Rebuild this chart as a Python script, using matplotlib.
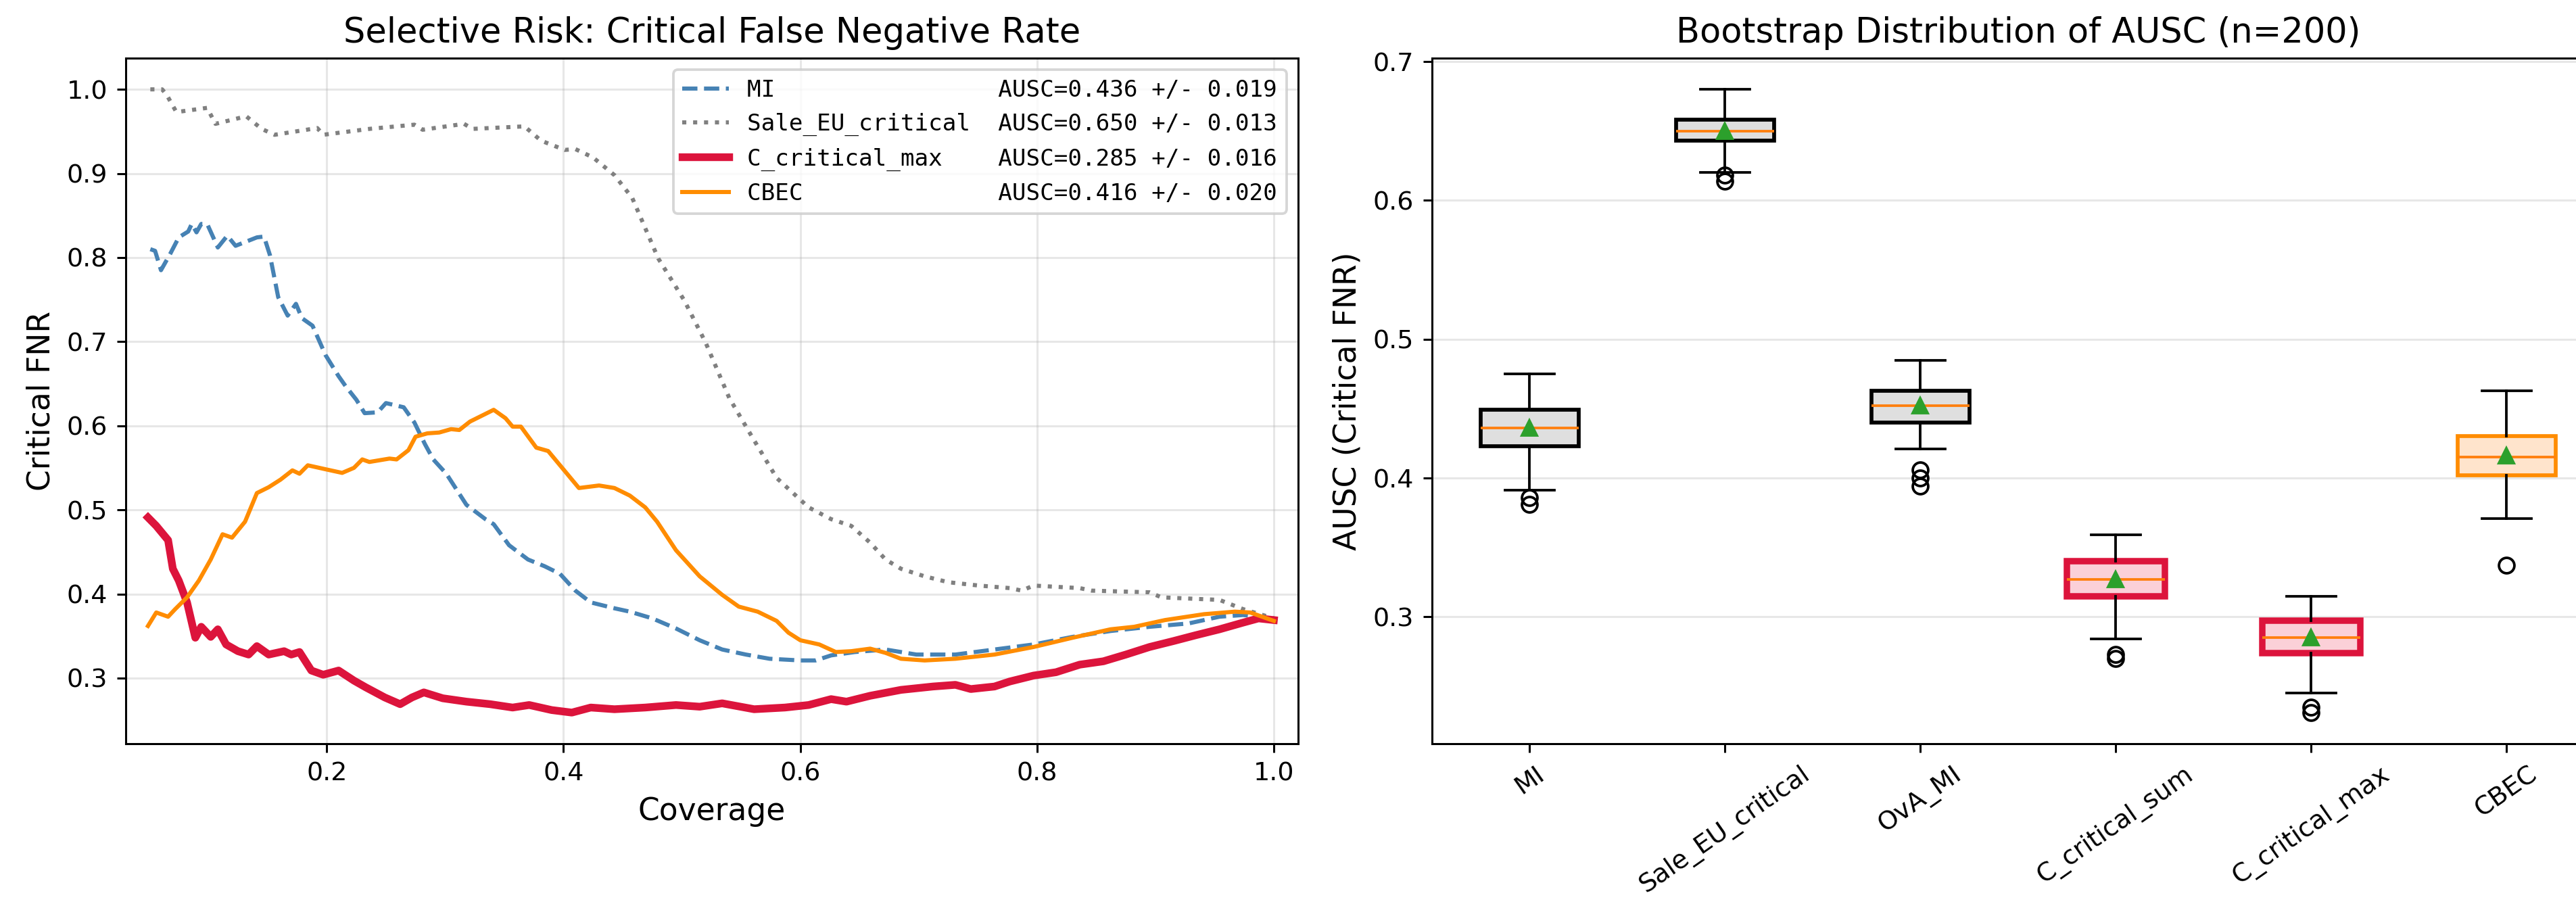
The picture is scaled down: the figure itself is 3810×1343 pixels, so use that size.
import numpy as np
import matplotlib
matplotlib.use("Agg")
import matplotlib.pyplot as plt

# ---- selective risk curves (coverage, critical FNR) ----
mi_x = [0.051, 0.055, 0.060, 0.068, 0.075, 0.083, 0.086, 0.090, 0.094, 0.099, 0.108, 0.116, 0.123,
        0.141, 0.147, 0.152, 0.159, 0.167, 0.174, 0.179, 0.188, 0.199, 0.210, 0.216, 0.225, 0.232,
        0.243, 0.250, 0.265, 0.274, 0.283, 0.290, 0.301, 0.318, 0.334, 0.341, 0.354, 0.370, 0.384,
        0.397, 0.410, 0.423, 0.443, 0.456, 0.475, 0.495, 0.515, 0.534, 0.554, 0.574, 0.600, 0.613,
        0.626, 0.646, 0.672, 0.698, 0.731, 0.764, 0.797, 0.830, 0.862, 0.895, 0.928, 0.954, 0.974,
        0.987, 1.000]
mi_y = [0.810, 0.808, 0.785, 0.805, 0.824, 0.831, 0.840, 0.830, 0.840, 0.840, 0.812, 0.826, 0.814,
        0.824, 0.825, 0.803, 0.753, 0.731, 0.745, 0.728, 0.719, 0.684, 0.659, 0.647, 0.631, 0.615,
        0.616, 0.627, 0.622, 0.604, 0.578, 0.560, 0.543, 0.506, 0.489, 0.483, 0.458, 0.441, 0.433,
        0.424, 0.404, 0.390, 0.383, 0.379, 0.371, 0.359, 0.345, 0.334, 0.328, 0.323, 0.321, 0.321,
        0.327, 0.331, 0.334, 0.328, 0.328, 0.334, 0.340, 0.349, 0.356, 0.361, 0.365, 0.373, 0.375,
        0.373, 0.369]

sale_x = [0.051, 0.061, 0.065, 0.073, 0.099, 0.106, 0.132, 0.145, 0.156, 0.192, 0.197, 0.236, 0.274,
          0.281, 0.316, 0.323, 0.367, 0.381, 0.401, 0.410, 0.425, 0.443, 0.458, 0.480, 0.502, 0.520,
          0.540, 0.560, 0.580, 0.607, 0.626, 0.643, 0.659, 0.672, 0.685, 0.705, 0.725, 0.751, 0.777,
          0.787, 0.797, 0.836, 0.846, 0.895, 0.905, 0.954, 0.974, 1.000]
sale_y = [1.000, 1.000, 0.993, 0.973, 0.978, 0.959, 0.968, 0.953, 0.946, 0.954, 0.946, 0.953, 0.958,
          0.952, 0.959, 0.953, 0.956, 0.939, 0.928, 0.929, 0.919, 0.898, 0.871, 0.799, 0.749, 0.699,
          0.633, 0.585, 0.538, 0.503, 0.489, 0.481, 0.461, 0.441, 0.430, 0.421, 0.414, 0.410, 0.407,
          0.404, 0.410, 0.407, 0.404, 0.402, 0.396, 0.393, 0.382, 0.371]

cmax_x = [0.049, 0.056, 0.066, 0.070, 0.075, 0.082, 0.089, 0.094, 0.102, 0.108, 0.115, 0.125, 0.134,
          0.141, 0.151, 0.164, 0.170, 0.177, 0.187, 0.197, 0.210, 0.223, 0.233, 0.249, 0.262, 0.272,
          0.282, 0.298, 0.318, 0.338, 0.357, 0.371, 0.390, 0.407, 0.423, 0.443, 0.469, 0.495, 0.515,
          0.534, 0.561, 0.587, 0.607, 0.626, 0.639, 0.659, 0.685, 0.712, 0.731, 0.744, 0.764, 0.777,
          0.797, 0.816, 0.836, 0.856, 0.875, 0.895, 0.915, 0.934, 0.954, 0.974, 0.987, 1.000]
cmax_y = [0.491, 0.481, 0.464, 0.430, 0.416, 0.390, 0.348, 0.361, 0.349, 0.358, 0.340, 0.332, 0.328,
          0.338, 0.328, 0.332, 0.328, 0.331, 0.309, 0.304, 0.309, 0.297, 0.289, 0.277, 0.269, 0.277,
          0.283, 0.276, 0.272, 0.269, 0.265, 0.268, 0.262, 0.259, 0.265, 0.263, 0.265, 0.268, 0.266,
          0.270, 0.263, 0.265, 0.268, 0.275, 0.272, 0.279, 0.286, 0.290, 0.292, 0.287, 0.290, 0.296,
          0.303, 0.307, 0.316, 0.320, 0.328, 0.337, 0.344, 0.351, 0.358, 0.366, 0.371, 0.369]

cbec_x = [0.049, 0.056, 0.066, 0.072, 0.082, 0.092, 0.102, 0.112, 0.120, 0.131, 0.141, 0.151, 0.161,
          0.171, 0.177, 0.184, 0.200, 0.213, 0.223, 0.230, 0.236, 0.253, 0.259, 0.269, 0.275, 0.285,
          0.295, 0.305, 0.312, 0.321, 0.331, 0.341, 0.351, 0.357, 0.364, 0.377, 0.387, 0.400, 0.413,
          0.430, 0.443, 0.456, 0.469, 0.479, 0.495, 0.515, 0.534, 0.548, 0.564, 0.580, 0.590, 0.600,
          0.616, 0.630, 0.643, 0.659, 0.672, 0.685, 0.705, 0.731, 0.764, 0.797, 0.830, 0.862, 0.882,
          0.908, 0.941, 0.967, 0.980, 1.000]
cbec_y = [0.362, 0.378, 0.373, 0.382, 0.396, 0.416, 0.441, 0.471, 0.467, 0.486, 0.520, 0.527, 0.536,
          0.547, 0.543, 0.553, 0.548, 0.544, 0.550, 0.560, 0.557, 0.561, 0.560, 0.571, 0.587, 0.591,
          0.592, 0.596, 0.595, 0.605, 0.612, 0.619, 0.609, 0.599, 0.599, 0.574, 0.570, 0.548, 0.526,
          0.529, 0.526, 0.517, 0.503, 0.486, 0.452, 0.421, 0.399, 0.385, 0.379, 0.368, 0.354, 0.345,
          0.340, 0.331, 0.332, 0.335, 0.330, 0.323, 0.321, 0.323, 0.328, 0.337, 0.348, 0.358, 0.361,
          0.369, 0.376, 0.379, 0.378, 0.368]

curve_names = ["MI", "Sale_EU_critical", "C_critical_max", "CBEC"]
curve_ausc = [0.436, 0.650, 0.285, 0.416]
curve_std = [0.019, 0.013, 0.016, 0.020]

# ---- bootstrap AUSC box stats ----
box_names = ["MI", "Sale_EU_critical", "OvA_MI", "C_critical_sum", "C_critical_max", "CBEC"]
box_mean = [0.436, 0.650, 0.452, 0.327, 0.285, 0.416]
box_med = [0.436, 0.650, 0.452, 0.327, 0.285, 0.415]
box_q1 = [0.423, 0.643, 0.440, 0.315, 0.274, 0.402]
box_q3 = [0.449, 0.658, 0.463, 0.340, 0.297, 0.430]
box_lo = [0.391, 0.620, 0.421, 0.284, 0.245, 0.371]
box_hi = [0.475, 0.680, 0.485, 0.359, 0.315, 0.463]
box_fliers = [[0.386, 0.381], [0.618, 0.614], [0.406, 0.400, 0.394], [0.273, 0.270],
              [0.235, 0.231], [0.337]]

W, H, DPI = 3810, 1343, 274
fig = plt.figure(figsize=(W / DPI, H / DPI), dpi=DPI)
ax1 = fig.add_axes([0.0488, 0.1809, 0.4551, 0.7550])
ax2 = fig.add_axes([0.5559, 0.1809, 0.4551, 0.7550])

# left panel
styles = [dict(color="steelblue", ls="--", lw=1.6),
          dict(color="gray", ls=":", lw=1.6),
          dict(color="crimson", ls="-", lw=3.0),
          dict(color="darkorange", ls="-", lw=1.6)]
xs = [mi_x, sale_x, cmax_x, cbec_x]
ys = [mi_y, sale_y, cmax_y, cbec_y]
for name, m, s, x, y, st in zip(curve_names, curve_ausc, curve_std, xs, ys, styles):
    ax1.plot(x, y, label=f"{name:<18s}AUSC={m:.3f} +/- {s:.3f}", **st)
ax1.set_xlim(0.0302, 1.0204)
ax1.set_xlabel("Coverage", fontsize=12)
ax1.set_ylabel("Critical FNR", fontsize=12)
ax1.set_title("Selective Risk: Critical False Negative Rate", fontsize=13.4)
ax1.grid(alpha=0.3)
ax1.legend(loc="upper right", prop={"family": "DejaVu Sans Mono", "size": 9})

# right panel
stats = []
for i, name in enumerate(box_names):
    stats.append(dict(label=name, mean=box_mean[i], med=box_med[i], q1=box_q1[i], q3=box_q3[i],
                      whislo=box_lo[i], whishi=box_hi[i], fliers=box_fliers[i]))
bp = ax2.bxp(stats, showmeans=True, patch_artist=True)
face = ["#dfdfdf", "#dfdfdf", "#dfdfdf", "#fbd0d8", "#fbd0d8", "#ffe4cc"]
edge = ["black", "black", "black", "crimson", "crimson", "darkorange"]
lws = [1.5, 1.5, 1.5, 2.5, 2.5, 1.5]
for patch, fc, ec, lw in zip(bp["boxes"], face, edge, lws):
    patch.set_facecolor(fc)
    patch.set_edgecolor(ec)
    patch.set_linewidth(lw)
ax2.set_ylabel("AUSC (Critical FNR)", fontsize=12)
ax2.set_title("Bootstrap Distribution of AUSC (n=200)", fontsize=13.4)
ax2.grid(axis="y", alpha=0.3)
plt.setp(ax2.get_xticklabels(), rotation=35)

fig.savefig("out.png", dpi=DPI)
